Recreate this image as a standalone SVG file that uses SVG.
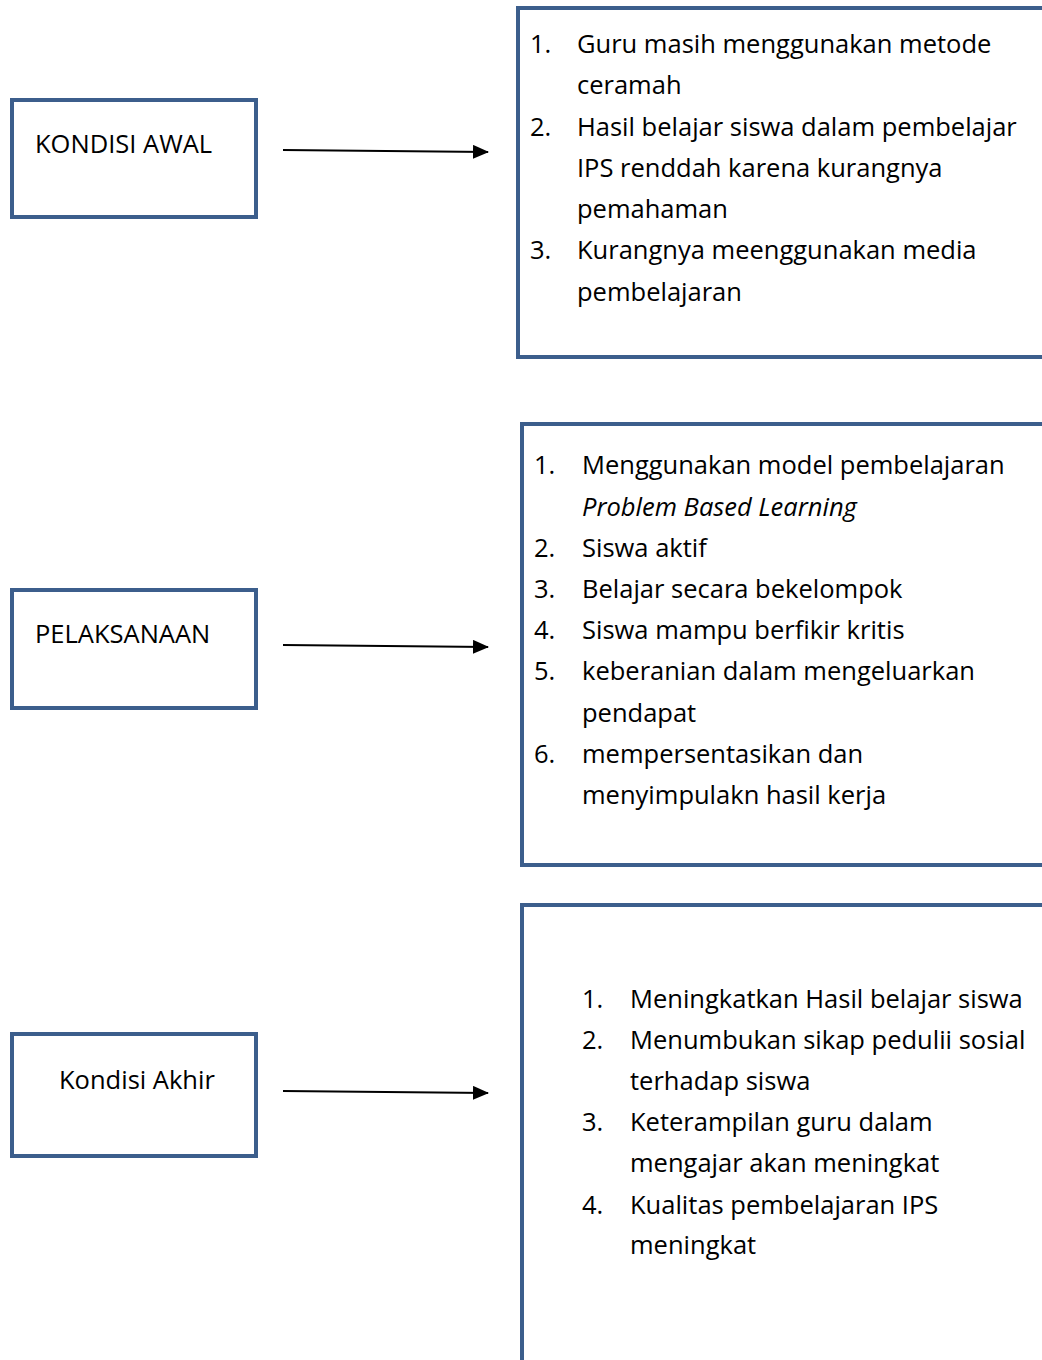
<svg xmlns="http://www.w3.org/2000/svg" width="1042" height="1360" viewBox="0 0 1042 1360">
<style>
.box{fill:#fff;stroke:#3c5e8c;stroke-width:4}
.t{font-family:"Open Sans","Liberation Sans",sans-serif;font-size:25.5px;fill:#000}
.c{stroke:#000;stroke-width:2;fill:none}
</style>
<defs>
<marker id="ah" markerWidth="16" markerHeight="14" refX="15" refY="7" orient="auto" markerUnits="userSpaceOnUse">
<path d="M0,0 L16,7 L0,14 Z" fill="#000"/>
</marker>
</defs>
<rect width="1042" height="1360" fill="#fff"/>
<g id="kondisi-awal">
<rect class="box" x="12" y="100" width="244" height="117"/>
<text class="t" x="35" y="153">KONDISI AWAL</text>
</g>
<g id="pelaksanaan">
<rect class="box" x="12" y="590" width="244" height="118"/>
<text class="t" x="35" y="643">PELAKSANAAN</text>
</g>
<g id="kondisi-akhir">
<rect class="box" x="12" y="1034" width="244" height="122"/>
<text class="t" x="59" y="1089">Kondisi Akhir</text>
</g>
<g id="awal-detail">
<rect class="box" x="518" y="8" width="540" height="349"/>
<text class="t" x="530" y="53">1.</text>
<text class="t" x="577" y="53">Guru masih menggunakan metode</text>
<text class="t" x="577" y="94">ceramah</text>
<text class="t" x="530" y="136">2.</text>
<text class="t" x="577" y="136">Hasil belajar siswa dalam pembelajar</text>
<text class="t" x="577" y="177">IPS renddah karena kurangnya</text>
<text class="t" x="577" y="218">pemahaman</text>
<text class="t" x="530" y="259">3.</text>
<text class="t" x="577" y="259">Kurangnya meenggunakan media</text>
<text class="t" x="577" y="301">pembelajaran</text>
</g>
<g id="pelaksanaan-detail">
<rect class="box" x="522" y="424" width="540" height="441"/>
<text class="t" x="534" y="474">1.</text>
<text class="t" x="582" y="474">Menggunakan model pembelajaran</text>
<text class="t" x="582" y="516" font-style="italic">Problem Based Learning</text>
<text class="t" x="534" y="557">2.</text>
<text class="t" x="582" y="557">Siswa aktif</text>
<text class="t" x="534" y="598">3.</text>
<text class="t" x="582" y="598">Belajar secara bekelompok</text>
<text class="t" x="534" y="639">4.</text>
<text class="t" x="582" y="639">Siswa mampu berfikir kritis</text>
<text class="t" x="534" y="680">5.</text>
<text class="t" x="582" y="680">keberanian dalam mengeluarkan</text>
<text class="t" x="582" y="722">pendapat</text>
<text class="t" x="534" y="763">6.</text>
<text class="t" x="582" y="763">mempersentasikan dan</text>
<text class="t" x="582" y="804">menyimpulakn hasil kerja</text>
</g>
<g id="akhir-detail">
<rect class="box" x="522" y="905" width="540" height="480"/>
<text class="t" x="582" y="1008">1.</text>
<text class="t" x="630" y="1008">Meningkatkan Hasil belajar siswa</text>
<text class="t" x="582" y="1049">2.</text>
<text class="t" x="630" y="1049">Menumbukan sikap pedulii sosial</text>
<text class="t" x="630" y="1090">terhadap siswa</text>
<text class="t" x="582" y="1131">3.</text>
<text class="t" x="630" y="1131">Keterampilan guru dalam</text>
<text class="t" x="630" y="1172">mengajar akan meningkat</text>
<text class="t" x="582" y="1214">4.</text>
<text class="t" x="630" y="1214">Kualitas pembelajaran IPS</text>
<text class="t" x="630" y="1254">meningkat</text>
</g>
<g id="connectors">
<line class="c" x1="283" y1="150" x2="488" y2="152" marker-end="url(#ah)"/>
<line class="c" x1="283" y1="645" x2="488" y2="647" marker-end="url(#ah)"/>
<line class="c" x1="283" y1="1091" x2="488" y2="1093" marker-end="url(#ah)"/>
</g>
</svg>
